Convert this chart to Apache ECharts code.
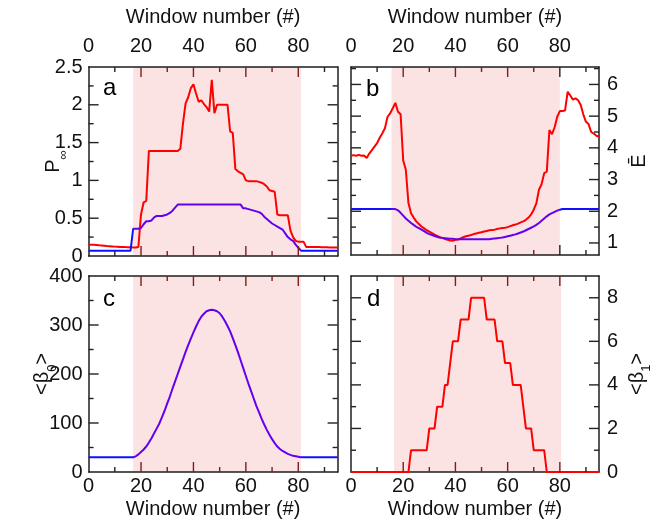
<!DOCTYPE html>
<html><head><meta charset="utf-8">
<script src="https://cdn.jsdelivr.net/npm/echarts@6/dist/echarts.min.js"></script>
<style>html,body{margin:0;padding:0;background:#fff}#c{width:667px;height:522px}</style>
</head><body><div id="c"></div><script>
// ---------------- data ----------------
const windowNumbers = Array.from({length: 96}, (_, i) => i);
const shadeA = [17, 81], shadeB = [15.5, 80], shadeC = [17, 81], shadeD = [16.5, 80.5];
const xTickLabels = [0, 20, 40, 60, 80];
const xMajorTicks = [20, 40, 60, 80];
const xMinorTicks = [10, 30, 50, 70, 90];
const pInfTicks = [0, 0.5, 1, 1.5, 2, 2.5];
const pInfMinor = [0.25, 0.75, 1.25, 1.75, 2.25];
const eBarTicks = [1, 2, 3, 4, 5, 6];
const eBarMinor = [1.5, 2.5, 3.5, 4.5, 5.5, 6.5];
const beta0Ticks = [0, 100, 200, 300, 400];
const beta0Minor = [50, 150, 250, 350];
const beta1Ticks = [0, 2, 4, 6, 8];
const beta1Minor = [1, 3, 5, 7];

const pInfRed = [0.15,0.15,0.148,0.145,0.142,0.14,0.136,0.132,0.13,0.127,0.124,0.122,0.12,0.12,0.118,0.117,0.115,0.113,0.112,0.12,
  0.55,0.71,0.73,1.39,1.39,1.39,1.39,1.39,1.39,1.39,1.39,1.39,1.39,1.39,1.39,1.42,1.75,2.02,2.10,2.22,
  2.27,2.15,2.04,2.06,2.01,1.97,1.91,2.33,1.89,2.00,2.00,2.00,2.00,2.00,1.65,1.63,1.15,1.12,1.10,1.08,
  1.00,0.99,0.99,0.99,0.99,0.98,0.97,0.95,0.92,0.87,0.86,0.85,0.55,0.54,0.54,0.54,0.54,0.34,0.25,0.20,
  0.19,0.19,0.19,0.12,0.12,0.12,0.12,0.118,0.118,0.116,0.115,0.115,0.114,0.113,0.112,0.112];
const pInfBlue = [0.07,0.07,0.07,0.07,0.07,0.07,0.07,0.07,0.07,0.07,0.07,0.07,0.07,0.07,0.07,0.07,0.07,0.36,0.36,0.36,
  0.37,0.42,0.46,0.46,0.47,0.51,0.53,0.53,0.53,0.54,0.55,0.57,0.60,0.64,0.68,0.68,0.68,0.68,0.68,0.68,
  0.68,0.68,0.68,0.68,0.68,0.68,0.68,0.68,0.68,0.68,0.68,0.68,0.68,0.68,0.68,0.68,0.68,0.68,0.68,0.63,
  0.63,0.62,0.61,0.60,0.59,0.58,0.56,0.52,0.49,0.46,0.43,0.41,0.39,0.37,0.35,0.30,0.25,0.22,0.20,0.15,
  0.11,0.07,0.07,0.07,0.07,0.07,0.07,0.07,0.07,0.07,0.07,0.07,0.07,0.07,0.07,0.07];
const eBarRed = [3.75,3.77,3.75,3.78,3.75,3.76,3.68,3.82,3.93,4.04,4.15,4.32,4.46,4.62,4.98,5.09,5.25,5.42,5.14,5.06,
  3.60,3.31,2.26,1.94,1.80,1.68,1.60,1.52,1.46,1.40,1.36,1.31,1.26,1.22,1.18,1.16,1.12,1.10,1.08,1.07,
  1.10,1.11,1.14,1.18,1.21,1.23,1.25,1.28,1.30,1.32,1.34,1.36,1.38,1.40,1.41,1.42,1.44,1.46,1.47,1.48,
  1.50,1.53,1.56,1.58,1.61,1.65,1.68,1.73,1.80,1.90,2.05,2.25,2.68,2.85,3.20,3.25,4.56,4.43,4.65,4.98,
  5.16,5.16,5.18,5.77,5.65,5.52,5.56,5.50,5.35,5.05,4.82,4.75,4.50,4.45,4.38,4.35];
const eBarBlue = [2.07,2.07,2.07,2.07,2.07,2.07,2.07,2.07,2.07,2.07,2.07,2.07,2.07,2.07,2.07,2.07,2.07,2.07,2.03,1.95,
  1.86,1.77,1.70,1.63,1.57,1.51,1.47,1.42,1.37,1.32,1.28,1.25,1.22,1.19,1.17,1.16,1.15,1.14,1.13,1.13,
  1.12,1.12,1.12,1.12,1.12,1.12,1.12,1.12,1.12,1.12,1.12,1.12,1.12,1.12,1.13,1.14,1.15,1.16,1.17,1.19,
  1.21,1.23,1.25,1.27,1.30,1.33,1.36,1.40,1.44,1.48,1.52,1.57,1.63,1.70,1.77,1.84,1.90,1.94,1.98,2.02,
  2.05,2.07,2.07,2.07,2.07,2.07,2.07,2.07,2.07,2.07,2.07,2.07,2.07,2.07,2.07,2.07];
const beta0 = [30,30,30,30,30,30,30,30,30,30,30,30,30,30,30,30,30,30,32,36,
  41,46,52,60,69,79,89,99,112,125,140,154,170,185,200,215,230,245,259,272,
  285,297,308,317,323,328,330,331,330,328,324,317,308,298,287,273,259,244,228,212,
  196,180,165,150,135,122,109,97,86,76,67,59,52,47,43,40,37,35,33,32,
  31,30,30,30,30,30,30,30,30,30,30,30,30,30,30,30];
const beta1 = [0,0,0,0,0,0,0,0,0,0,0,0,0,0,0,0,0,0,0,0,
  0,0,0,1,1,1,1,1,1,1,2,2,2,3,3,3,4,4,5,6,
  6,6,7,7,7,7,8,8,8,8,8,8,7,7,7,7,6,6,6,5,
  5,5,4,4,4,4,3,2,2,2,1,1,1,1,1,0,0,0,0,0,
  0,0,0,0,0,0,0,0,0,0,0,0,0,0,0,0];

// ---------------- style ----------------
const FONT = '"Liberation Sans", Arial, sans-serif';
const TEXT = '#111';
const FRAME = '#1e1e1e';
const TICK = '#222222';
const TICK_IN = '#7a1e1e';
const RED = '#ff0000';
const BLUE = '#1010ff';
const PURPLE = '#6400f0';
const SHADE = '#fce3e3';

const panels = [
  {grid: {left: 88.6, top: 67, width: 249, height: 189}, yMin: 0, yMax: 2.5, yLabels: pInfTicks, yMinor: pInfMinor, shade: shadeA,
   ySide: 'left', yName: '{n|P}{s|∞}', yNameGap: 19, xSide: 'top', xNameGap: 40, letter: 'a', lx: 103, ly: 88},
  {grid: {left: 351, top: 67, width: 248, height: 188}, yMin: 0.62, yMax: 6.55, yLabels: eBarTicks, yMinor: eBarMinor, shade: shadeB,
   ySide: 'right', yName: '{n|Ē}', yNameGap: 30, xSide: 'top', xNameGap: 40, letter: 'b', lx: 366, ly: 89},
  {grid: {left: 88.6, top: 276, width: 249, height: 196}, yMin: 0, yMax: 400, yLabels: beta0Ticks, yMinor: beta0Minor, shade: shadeC,
   ySide: 'left', yName: '{n|<β}{s|0}{n|>}', yNameGap: 30, xSide: 'bottom', xNameGap: 27, letter: 'c', lx: 103, ly: 299},
  {grid: {left: 351, top: 276, width: 248, height: 196}, yMin: 0, yMax: 9, yLabels: beta1Ticks, yMinor: beta1Minor, shade: shadeD,
   ySide: 'right', yName: '{n|<β}{s|1}{n|>}', yNameGap: 28, xSide: 'bottom', xNameGap: 27, letter: 'd', lx: 367, ly: 299},
];

const seriesDefs = [
  {panel: 0, data: pInfRed, color: RED, shadeHere: true},
  {panel: 0, data: pInfBlue, color: BLUE, inColor: PURPLE},
  {panel: 1, data: eBarRed, color: RED, shadeHere: true},
  {panel: 1, data: eBarBlue, color: BLUE, inColor: PURPLE},
  {panel: 2, data: beta0, color: BLUE, inColor: PURPLE, shadeHere: true},
  {panel: 3, data: beta1, color: RED, shadeHere: true},
];

const richName = {
  n: {fontFamily: FONT, fontSize: 20, color: TEXT, lineHeight: 26, verticalAlign: 'top'},
  s: {fontFamily: FONT, fontSize: 13, color: TEXT, lineHeight: 14, verticalAlign: 'bottom'}
};

const xAxes = [], yAxes = [];
const labelStyle = {fontFamily: FONT, fontSize: 20, color: TEXT};

panels.forEach((p, gi) => {
  ['bottom', 'top'].forEach(pos => {
    const lab = p.xSide === pos;
    xAxes.push({
      type: 'value', gridIndex: gi, position: pos, min: 0, max: 95, z: 3,
      splitLine: {show: false}, axisTick: {show: false},
      axisLine: {show: true, onZero: false, lineStyle: {color: FRAME, width: 1.5}},
      axisLabel: Object.assign({show: lab, customValues: xTickLabels, margin: pos === 'top' ? 11 : 4}, labelStyle),
      name: lab ? 'Window number (#)' : '', nameLocation: 'middle', nameGap: p.xNameGap, nameMoveOverlap: false,
      nameTextStyle: labelStyle
    });
  });
  ['left', 'right'].forEach(pos => {
    const lab = p.ySide === pos;
    yAxes.push({
      type: 'value', gridIndex: gi, position: pos, min: p.yMin, max: p.yMax, z: 3,
      splitLine: {show: false}, axisTick: {show: false},
      axisLine: {show: true, onZero: false, lineStyle: {color: FRAME, width: 1.5}},
      axisLabel: Object.assign({show: lab, customValues: p.yLabels, margin: pos === 'left' ? 6 : 8}, labelStyle),
      name: lab ? p.yName : '', nameLocation: 'middle', nameGap: p.yNameGap, nameRotate: 90, nameMoveOverlap: false,
      nameTextStyle: Object.assign({rich: richName}, labelStyle)
    });
  });
});

const series = [];
seriesDefs.forEach((s, i) => {
  const p = panels[s.panel];
  const o = {
    type: 'line', xAxisIndex: s.panel * 2, yAxisIndex: s.panel * 2,
    data: windowNumbers.map((w, k) => [w, s.data[k]]),
    showSymbol: false, symbol: 'none', z: 4, lineStyle: {width: 2}, animation: false
  };
  if (!s.inColor) { o.lineStyle.color = s.color; o.itemStyle = {color: s.color}; }
  if (s.shadeHere) {
    o.markArea = {silent: true, z: 1, itemStyle: {color: SHADE},
      data: [[{xAxis: p.shade[0]}, {xAxis: p.shade[1]}]]};
  }
  series.push(o);
});
const visualMap = seriesDefs.map((s, i) => {
  if (!s.inColor) return null;
  const sh = panels[s.panel].shade;
  return {type: 'piecewise', show: false, dimension: 0, seriesIndex: i,
    pieces: [{lt: sh[0], color: s.color}, {gte: sh[0], lte: sh[1], color: s.inColor}, {gt: sh[1], color: s.color}]};
}).filter(Boolean);

const chart = echarts.init(document.getElementById('c'), null, {renderer: 'canvas'});
chart.setOption({
  animation: false,
  backgroundColor: '#fff',
  grid: panels.map(p => Object.assign({containLabel: false}, p.grid)),
  xAxis: xAxes, yAxis: yAxes,
  series, visualMap
});

// tick marks (thin filled bars) and panel letters, positioned through each panel's own scales
const graphic = [];
const bar = (x, y, w, h, c) => ({type: 'rect', silent: true, z: 6,
  shape: {x: x, y: y, width: w, height: h}, style: {fill: c}});
panels.forEach((p, gi) => {
  const finder = {xAxisIndex: gi * 2, yAxisIndex: gi * 2};
  const lo = chart.convertToPixel(finder, [0, p.yMin]);
  const hi = chart.convertToPixel(finder, [95, p.yMax]);
  const left = lo[0], right = hi[0], bottom = lo[1], top = hi[1];
  const xTick = (v, len) => {
    const px = chart.convertToPixel(finder, [v, p.yMin])[0];
    const c = (v > p.shade[0] && v < p.shade[1]) ? TICK_IN : TICK;
    graphic.push(bar(px - 0.7, bottom - len, 1.4, len, c), bar(px - 0.7, top, 1.4, len, c));
  };
  const yTick = (v, len) => {
    const py = chart.convertToPixel(finder, [0, v])[1];
    graphic.push(bar(left, py - 0.7, len, 1.4, TICK), bar(right - len, py - 0.7, len, 1.4, TICK));
  };
  xMajorTicks.forEach(v => xTick(v, 10));
  xMinorTicks.forEach(v => xTick(v, 5));
  p.yLabels.filter(v => v > p.yMin && v < p.yMax).forEach(v => yTick(v, 10));
  p.yMinor.forEach(v => yTick(v, 5));
  graphic.push({type: 'text', x: p.lx, y: p.ly, z: 10, silent: true,
    style: {text: p.letter, font: '24px ' + FONT, fill: '#000', verticalAlign: 'middle', align: 'left'}});
});
chart.setOption({graphic: graphic});
</script></body></html>
